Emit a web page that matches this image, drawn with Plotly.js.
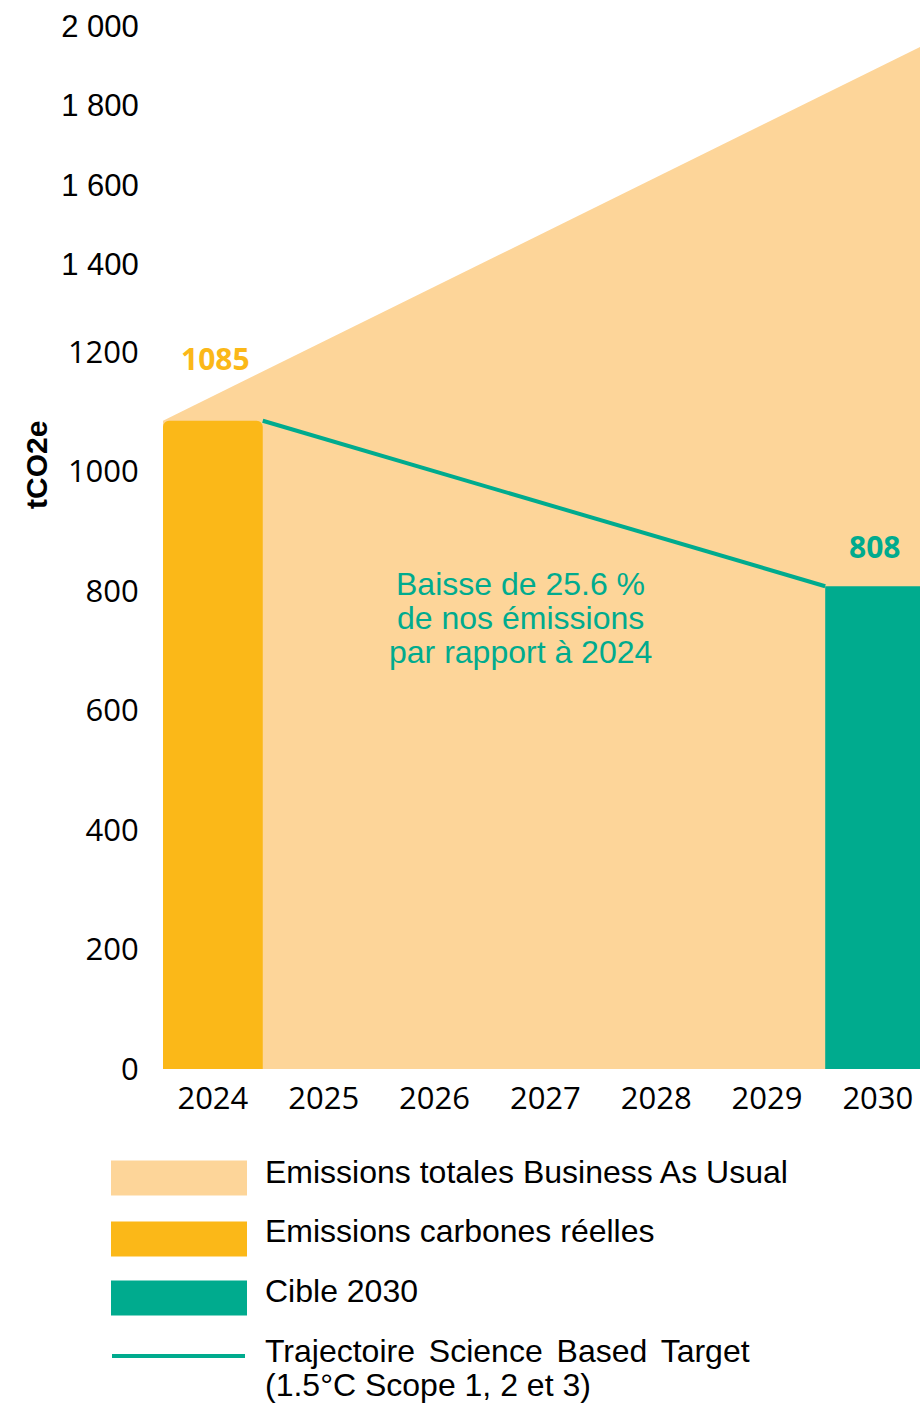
<!DOCTYPE html>
<html><head><meta charset="utf-8">
<script src="https://cdn.plot.ly/plotly-3.0.1.min.js"></script>
<style>html,body{margin:0;padding:0;background:#fff;} #chart{width:920px;height:1403px;}</style>
</head><body><div id="chart"></div>
<script>
// ---------- DATA ----------
const years = [2024, 2025, 2026, 2027, 2028, 2029, 2030];
const yearLabels = ['2024', '2025', '2026', '2027', '2028', '2029', '2030'];
const actualYears = [2024];
const actualValues = [1085];
const targetYears = [2030];
const targetValues = [808];
const sbtValues = [1085, 808];          // trajectory from 2024 emissions to 2030 target
const bauValues = [1085, 1947];         // BAU: from 2024 level to the right edge of the window
const yTickValues = [0, 200, 400, 600, 800, 1000, 1200, 1400, 1600, 1800, 2000];
const yTickLabels = ['0', '200', '400', '600', '800', '1000', '1200', '1 400', '1 600', '1 800', '2 000'];
const yTitle = 'tCO2e';
const seriesNames = ['Emissions totales Business As Usual', 'Emissions carbones réelles', 'Cible 2030',
                     ['Trajectoire Science Based Target', '(1.5°C Scope 1, 2 et 3)']];
const noteLines = ['Baisse de 25.6 %', 'de nos émissions', 'par rapport à 2024'];

// ---------- STYLE / LAYOUT ----------
const C_BAU = '#FDD599', C_ACT = '#FBB818', C_TGT = '#00AB8E';
const W = 920, H = 1403, PL = 163, PR = 920, PT = 0, PB = 1069;
const BAR_W = 0.9, BAR_W_TGT = 0.95;
const PX_PER_YEAR = 110.83;
const X_RANGE = [2024 - BAR_W / 2, 2024 - BAR_W / 2 + (PR - PL) / PX_PER_YEAR];
const PX_PER_UNIT = 0.5975;
const Y_RANGE = [0, (PB - PT) / PX_PER_UNIT];
// broken (piecewise) value scale, as in the original figure
const SCALE_REAL = [0, 1200, 1400, 2000];
const SCALE_DISP = [0, 1200, 1347.3, 1745.6];
function f(v) {
  for (let i = 1; i < SCALE_REAL.length; i++) {
    if (v <= SCALE_REAL[i] || i === SCALE_REAL.length - 1) {
      const r0 = SCALE_REAL[i - 1], r1 = SCALE_REAL[i], d0 = SCALE_DISP[i - 1], d1 = SCALE_DISP[i];
      return d0 + (v - r0) * (d1 - d0) / (r1 - r0);
    }
  }
}
const px = x => (x - PL) / (PR - PL);
const py = y => (PB - y) / (PB - PT);
const ARIAL = 'Liberation Sans, Arial, sans-serif';
const OPEN = 'Open Sans, sans-serif';

const traces = [
  { type: 'scatter', mode: 'lines', x: X_RANGE, y: bauValues.map(f), fill: 'tozeroy',
    fillcolor: C_BAU, line: { width: 0, color: C_BAU }, hoverinfo: 'skip', showlegend: false,
    xaxis: 'x', yaxis: 'y' },
  { type: 'bar', x: actualYears, y: actualValues.map(f), width: BAR_W,
    marker: { color: C_ACT, cornerradius: 6, line: { width: 0 } }, hoverinfo: 'skip', showlegend: false,
    xaxis: 'x2', yaxis: 'y2' },
  { type: 'bar', x: targetYears, y: targetValues.map(f), width: BAR_W_TGT,
    marker: { color: C_TGT, line: { width: 0 } }, hoverinfo: 'skip', showlegend: false,
    xaxis: 'x2', yaxis: 'y2' },
  { type: 'scatter', mode: 'lines', x: [actualYears[0] + BAR_W / 2, targetYears[0] - BAR_W_TGT / 2],
    y: sbtValues.map(f), line: { color: C_TGT, width: 4 }, hoverinfo: 'skip', showlegend: false,
    xaxis: 'x2', yaxis: 'y2' }
];

const tickText = yTickLabels.map((t, i) => yTickValues[i] > 1200
  ? '<span style="font-family:Liberation Sans, Arial">' + t + '</span>' : t);

const annotations = [
  { x: actualYears[0], y: f(actualValues[0]), xref: 'x', yref: 'y', text: '<b>' + actualValues[0] + '</b>',
    showarrow: false, yshift: 62, xshift: 3, font: { family: OPEN, size: 30, color: C_ACT } },
  { x: targetYears[0], y: f(targetValues[0]), xref: 'x', yref: 'y', text: '<b>' + targetValues[0] + '</b>',
    showarrow: false, yshift: 40, xshift: -3, font: { family: OPEN, size: 30, color: C_TGT } },
  { x: px(36), y: py(465), xref: 'paper', yref: 'paper', text: '<b>' + yTitle + '</b>', textangle: -90,
    showarrow: false, xanchor: 'center', yanchor: 'middle', font: { family: ARIAL, size: 30, color: '#000' } }
];
noteLines.forEach((t, i) => annotations.push({
  x: px(520), y: py(584 + 34 * i), xref: 'paper', yref: 'paper', text: t, showarrow: false,
  xanchor: 'center', yanchor: 'middle', font: { family: ARIAL, size: 32, color: C_TGT } }));

// custom legend
const legendRows = [1178, 1239, 1298, 1356];
const legendTextY = [[1172], [1231], [1291], [1351, 1385]];
const legendColors = [C_BAU, C_ACT, C_TGT, C_TGT];
const legendWordSpacing = [[0], [0], [0], [5, 0]];
const shapes = [];
seriesNames.forEach((name, i) => {
  if (i < 3) {
    shapes.push({ type: 'rect', xref: 'paper', yref: 'paper', x0: px(111), x1: px(247),
      y0: py(legendRows[i] - 17.5), y1: py(legendRows[i] + 17.5), fillcolor: legendColors[i], line: { width: 0 } });
  } else {
    shapes.push({ type: 'line', xref: 'paper', yref: 'paper', x0: px(112), x1: px(245),
      y0: py(legendRows[i]), y1: py(legendRows[i]), line: { color: legendColors[i], width: 4 } });
  }
  const lines = Array.isArray(name) ? name : [name];
  lines.forEach((t, j) => annotations.push({
    x: px(263), y: py(legendTextY[i][j]), xref: 'paper', yref: 'paper',
    text: legendWordSpacing[i][j] ? '<span style="word-spacing:' + legendWordSpacing[i][j] + 'px">' + t + '</span>' : t,
    showarrow: false, xanchor: 'left', yanchor: 'middle', font: { family: ARIAL, size: 32, color: '#000' } }));
});

const hiddenAxis = { showgrid: false, zeroline: false, showline: false, showticklabels: false, ticks: '',
  fixedrange: true, automargin: false };

const layout = {
  width: W, height: H, margin: { l: PL, r: W - PR, t: PT, b: H - PB, pad: 0 },
  paper_bgcolor: '#fff', plot_bgcolor: 'rgba(0,0,0,0)', showlegend: false, barmode: 'overlay',
  xaxis: { range: X_RANGE, tickvals: years, ticktext: yearLabels, showgrid: false, zeroline: false,
    showline: false, ticks: 'outside', ticklen: 2, tickcolor: 'rgba(0,0,0,0)',
    tickfont: { family: OPEN, size: 31, color: '#000' }, automargin: false, fixedrange: true },
  yaxis: { range: Y_RANGE, tickvals: yTickValues.map(f), ticktext: tickText, showgrid: false, zeroline: false,
    showline: false, ticks: 'outside', ticklen: 17, tickcolor: 'rgba(0,0,0,0)',
    tickfont: { family: OPEN, size: 31, color: '#000' }, automargin: false, fixedrange: true },
  xaxis2: Object.assign({ overlaying: 'x', range: X_RANGE, anchor: 'y2' }, hiddenAxis),
  yaxis2: Object.assign({ overlaying: 'y', range: Y_RANGE, anchor: 'x2' }, hiddenAxis),
  annotations: annotations, shapes: shapes
};

Plotly.newPlot('chart', traces, layout, { displayModeBar: false, staticPlot: true });
</script>
</body></html>
